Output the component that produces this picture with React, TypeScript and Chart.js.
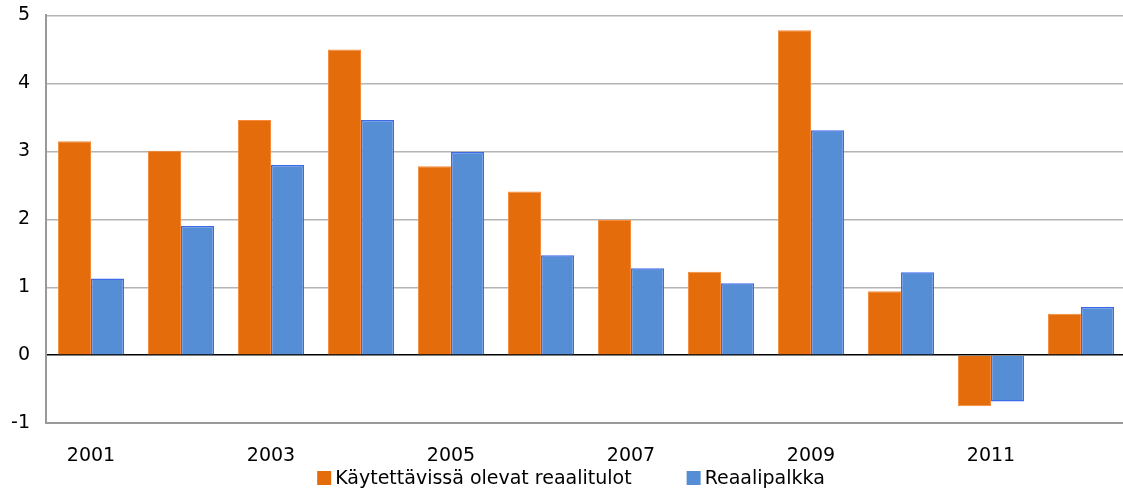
import React, { useEffect, useRef } from "react";
import { Chart, registerables } from "chart.js";

Chart.register(...registerables);

const years = ["2001", "2002", "2003", "2004", "2005", "2006", "2007", "2008", "2009", "2010", "2011", "2012"];
const disposableIncome = [3.15, 3.01, 3.46, 4.5, 2.78, 2.41, 1.99, 1.23, 4.78, 0.94, -0.75, 0.61];
const realWages = [1.13, 1.9, 2.8, 3.46, 2.99, 1.47, 1.28, 1.06, 3.31, 1.22, -0.68, 0.71];
const seriesNames = ["Käytettävissä olevat reaalitulot", "Reaalipalkka"];

const FONT_FAMILY = "'DejaVu Sans', Verdana, sans-serif";
const FONT_SIZE = 19;
const SHIFT = 12;

const bottomLegend = {
  id: "bottomLegend",
  afterDraw(chart: any) {
    const ctx = chart.ctx;
    const items = chart.data.datasets.map((d: any) => ({ text: d.label, color: d.backgroundColor }));
    ctx.save();
    ctx.font = `${FONT_SIZE}px ${FONT_FAMILY}`;
    ctx.textBaseline = "middle";
    ctx.textAlign = "left";
    const box = 14;
    const gapBoxText = 4;
    const gapItems = 55;
    const widths = items.map((it: any) => box + gapBoxText + ctx.measureText(it.text).width);
    const total = widths.reduce((a: number, b: number) => a + b, 0) + gapItems * (items.length - 1);
    let x = 571 - total / 2;
    const y = 478 + SHIFT;
    items.forEach((it: any, i: number) => {
      ctx.fillStyle = it.color;
      ctx.fillRect(x, y - box / 2, box, box);
      ctx.fillStyle = "#000";
      ctx.fillText(it.text, x + box + gapBoxText, y + 1);
      x += widths[i] + gapItems;
    });
    ctx.restore();
  },
};

export default function App() {
  const ref = useRef<HTMLCanvasElement | null>(null);
  useEffect(() => {
    if (!ref.current) return;
    const font = { family: FONT_FAMILY, size: FONT_SIZE };
    const chart = new Chart(ref.current, {
      type: "bar",
      data: {
        labels: years,
        datasets: [
          {
            label: seriesNames[0],
            data: disposableIncome,
            backgroundColor: "#E46C0A",
            borderColor: "#F58A3A",
            borderWidth: 1,
            categoryPercentage: 0.735,
            barPercentage: 1,
          },
          {
            label: seriesNames[1],
            data: realWages,
            backgroundColor: "#558ED5",
            borderColor: "#3D6BE8",
            borderWidth: 1.5,
            categoryPercentage: 0.735,
            barPercentage: 1,
          },
        ],
      },
      plugins: [bottomLegend],
      options: {
        animation: false,
        responsive: false,
        maintainAspectRatio: false,
        layout: { padding: { left: 0, right: 0, top: -3, bottom: 7 } },
        plugins: {
          tooltip: { enabled: false },
          legend: { display: false },
        },
        scales: {
          x: {
            grid: { display: false, drawTicks: false },
            border: { display: true, color: "#999", width: 2 },
            ticks: {
              font,
              color: "#000",
              autoSkip: false,
              maxRotation: 0,
              padding: 21,
              callback: (_v: any, i: number) => (i % 2 === 0 ? years[i] : ""),
            },
          },
          y: {
            min: -1,
            max: 5,
            afterFit: (scale: any) => {
              scale.width = 46;
            },
            ticks: { stepSize: 1, font, color: "#000", padding: 16 },
            grid: {
              drawTicks: false,
              color: (ctx: any) => (ctx.tick && ctx.tick.value === 0 ? "#000" : "#b4b4b4"),
              lineWidth: 1.5,
            },
            border: { display: true, color: "#999", width: 2 },
          },
        },
      },
    });
    return () => chart.destroy();
  }, []);
  return (
    <div style={{ position: "fixed", left: 0, top: 0, width: 1123, height: 495, overflow: "hidden", background: "#fff" }}>
      <canvas ref={ref} width={1126} height={495 + SHIFT} style={{ display: "block", marginTop: -SHIFT }} />
    </div>
  );
}
